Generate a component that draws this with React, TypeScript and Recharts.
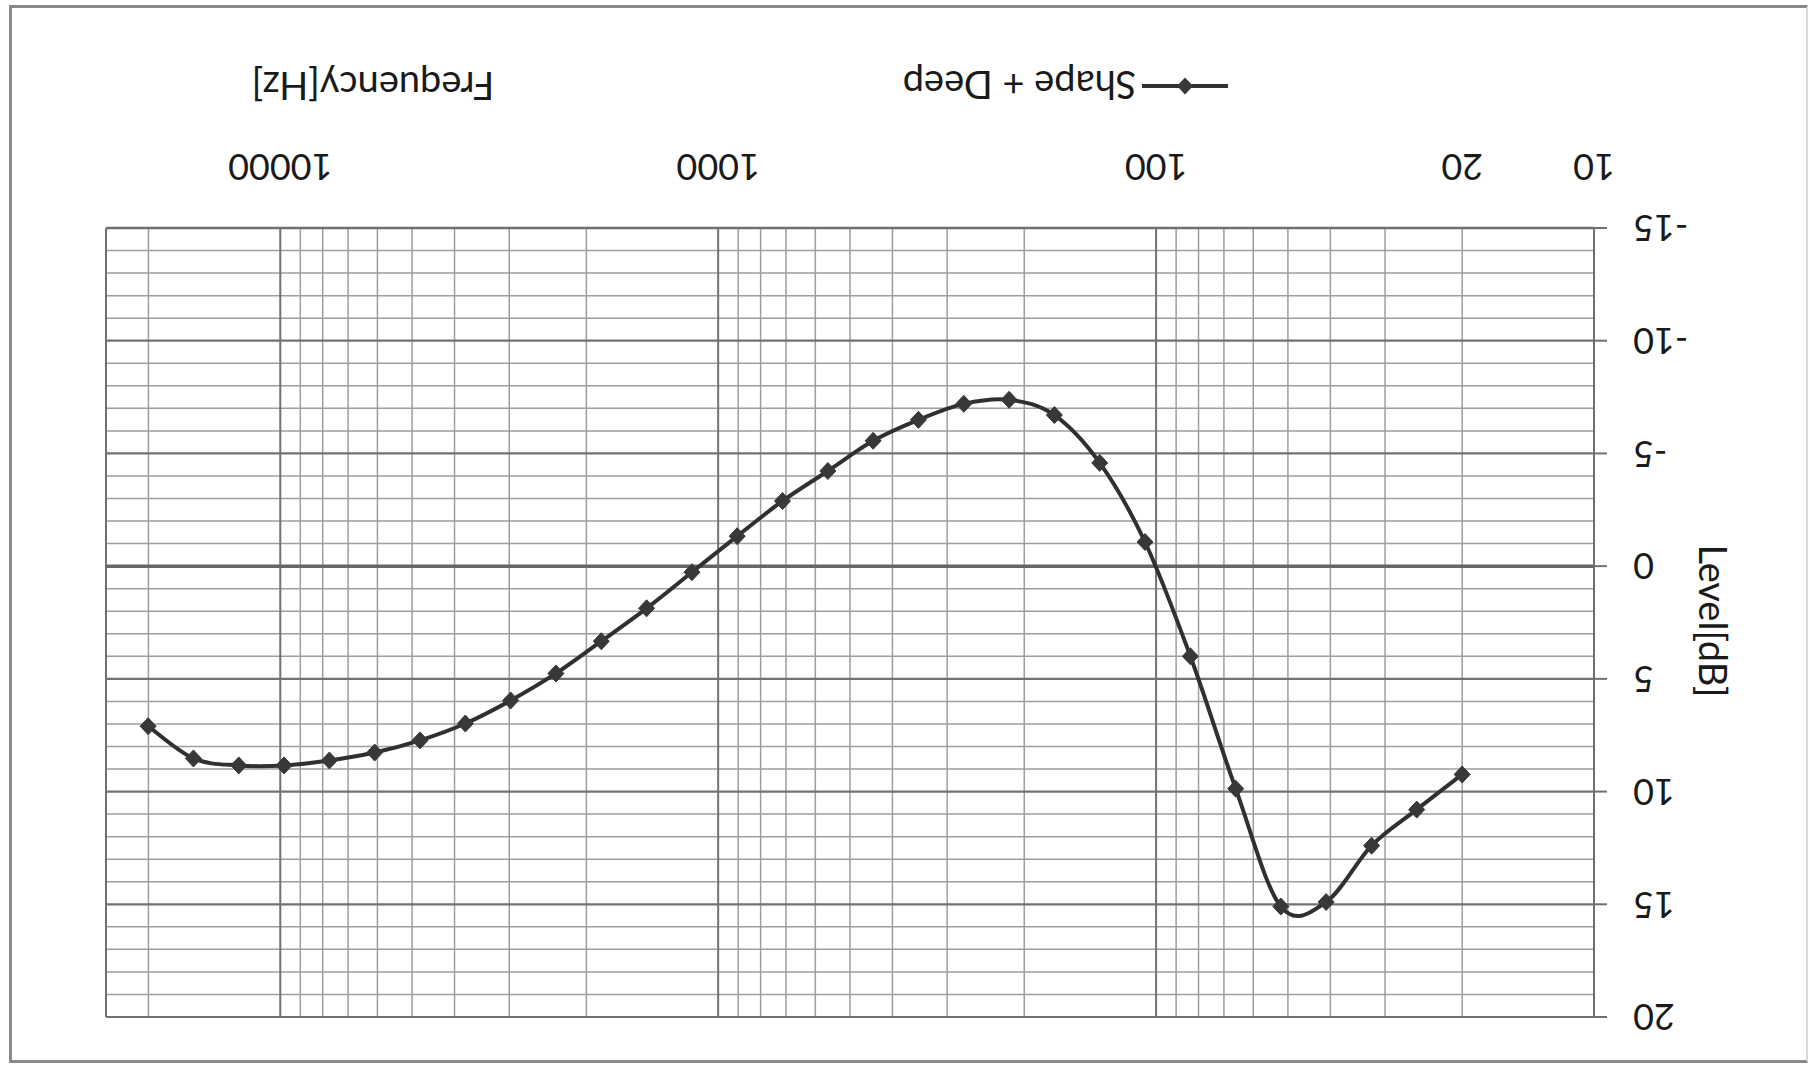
import React from 'react';
import { LineChart, Line, XAxis, YAxis, ReferenceLine, Legend } from 'recharts';

// Measured response of the "Shape + Deep" setting
const frequencies = [
  20, 25.4, 32.2, 40.9, 51.9, 65.8, 83.5, 106, 134.5, 170.7,
  216.6, 274.9, 348.9, 442.7, 561.8, 713, 904.8, 1148, 1457, 1849,
  2347, 2978, 3779, 4796, 6087, 7724, 9802, 12439, 15786, 20033,
];
const levels = [
  9.24, 10.8, 12.4, 14.9, 15.1, 9.87, 4.0, -1.07, -4.58, -6.7,
  -7.38, -7.2, -6.49, -5.56, -4.22, -2.89, -1.33, 0.27, 1.87, 3.33,
  4.76, 5.96, 6.98, 7.73, 8.27, 8.62, 8.84, 8.84, 8.53, 7.1,
];

// Axis ticks
const xTicks = [10, 20, 100, 1000, 10000];
const yTicks = [-15, -10, -5, 0, 5, 10, 15, 20];

// Log-paper grid
const minorFreqs = [
  20, 30, 40, 50, 60, 70, 80, 90,
  200, 300, 400, 500, 600, 700, 800, 900,
  2000, 3000, 4000, 5000, 6000, 7000, 8000, 9000,
  20000,
];
const majorFreqs = [100, 1000, 10000, 25000];
const minorLevels = [
  -14, -13, -12, -11, -9, -8, -7, -6, -4, -3, -2, -1,
  1, 2, 3, 4, 6, 7, 8, 9, 11, 12, 13, 14, 16, 17, 18, 19,
];
const majorLevels = [-10, -5, 5, 10, 15, 20];

const SERIES_NAME = 'Shape + Deep';
const rows = frequencies.map((freq, i) => ({ freq, level: levels[i] }));

// Smoothed line through every point (Catmull-Rom as cubic Béziers)
function smoothCurve(context: any) {
  let pts: number[][] = [];
  return {
    areaStart() {},
    areaEnd() {},
    lineStart() {
      pts = [];
    },
    lineEnd() {
      const n = pts.length;
      if (!n) return;
      context.moveTo(pts[0][0], pts[0][1]);
      for (let i = 0; i < n - 1; i++) {
        const p0 = pts[Math.max(0, i - 1)];
        const p1 = pts[i];
        const p2 = pts[i + 1];
        const p3 = pts[Math.min(n - 1, i + 2)];
        context.bezierCurveTo(
          p1[0] + (p2[0] - p0[0]) / 6,
          p1[1] + (p2[1] - p0[1]) / 6,
          p2[0] - (p3[0] - p1[0]) / 6,
          p2[1] - (p3[1] - p1[1]) / 6,
          p2[0],
          p2[1]
        );
      }
    },
    point(x: number, y: number) {
      pts.push([+x, +y]);
    },
  };
}

const INK = '#303030';
const TEXT = '#1a1a1a';
const FONT = 'Lato, "Open Sans", sans-serif';

const Diamond = (props: any) => {
  const { cx, cy, index } = props;
  if (cx == null || cy == null) return <g key={`dm-${index}`} />;
  return (
    <path
      key={`dm-${index}`}
      d={`M${cx},${cy - 8.5}L${cx + 8},${cy}L${cx},${cy + 8.5}L${cx - 8},${cy}Z`}
      fill="#383838"
      stroke="#383838"
      strokeWidth={1}
    />
  );
};

const LegendContent = () => (
  <div style={{ display: 'flex', alignItems: 'center', height: 40, fontFamily: FONT }}>
    <svg width={86} height={22}>
      <line x1={0} y1={11} x2={86} y2={11} stroke={INK} strokeWidth={4} />
      <path d="M43,2.5L51,11L43,19.5L35,11Z" fill="#383838" />
    </svg>
    <span style={{ marginLeft: 6, fontSize: 38, lineHeight: '40px', color: TEXT, whiteSpace: 'nowrap' }}>
      {SERIES_NAME}
    </span>
  </div>
);

export default function App() {
  return (
    <div
      style={{
        position: 'absolute',
        left: 0,
        top: 0,
        width: 1812,
        height: 1066,
        background: '#ffffff',
        transform: 'rotate(180deg)',
        fontFamily: FONT,
        overflow: 'hidden',
      }}
    >
      <div
        style={{
          position: 'absolute',
          left: 4,
          top: 3,
          width: 1799,
          height: 1058,
          borderTop: '3px solid #8a8a8a',
          borderRight: '3px solid #8a8a8a',
          borderBottom: '3px solid #8a8a8a',
          borderLeft: '2px solid #d8d8d8',
          boxSizing: 'border-box',
        }}
      />
      <LineChart
        width={1812}
        height={1066}
        data={rows}
        margin={{ top: 49, right: 106, bottom: 0, left: 0 }}
      >
        {minorLevels.map((v) => (
          <ReferenceLine key={`ml-${v}`} y={v} stroke="#9e9e9e" strokeWidth={1.5} />
        ))}
        {minorFreqs.map((f) => (
          <ReferenceLine key={`mf-${f}`} x={f} stroke="#9e9e9e" strokeWidth={1.5} />
        ))}
        {majorFreqs.map((f) => (
          <ReferenceLine key={`Mf-${f}`} x={f} stroke="#727272" strokeWidth={2} />
        ))}
        {majorLevels.map((v) => (
          <ReferenceLine key={`Ml-${v}`} y={v} stroke="#727272" strokeWidth={2.2} />
        ))}
        <ReferenceLine y={0} stroke="#666666" strokeWidth={3.5} />
        <XAxis
          dataKey="freq"
          type="number"
          scale="log"
          domain={[10, 25000]}
          ticks={xTicks}
          interval={0}
          allowDataOverflow
          height={228}
          tickLine={false}
          tickSize={0}
          tickMargin={48}
          axisLine={{ stroke: '#707070', strokeWidth: 2.5 }}
          tick={{ fontSize: 36, fill: TEXT }}
          label={{
            content: () => (
              <text x={1439} y={994} textAnchor="middle" fontSize={38} fill={TEXT} fontFamily={FONT}>
                Frequency[Hz]
              </text>
            ),
          }}
        />
        <YAxis
          type="number"
          domain={[-15, 20]}
          ticks={yTicks}
          interval={0}
          allowDataOverflow
          width={218}
          tickSize={13}
          tickMargin={26}
          tickLine={{ stroke: '#707070', strokeWidth: 2 }}
          axisLine={{ stroke: '#707070', strokeWidth: 2 }}
          tick={{ fontSize: 36, fill: TEXT }}
          label={{
            content: () => (
              <text
                x={113}
                y={445}
                transform="rotate(-90 113 445)"
                textAnchor="middle"
                fontSize={38}
                fill={TEXT}
                fontFamily={FONT}
              >
                Level[dB]
              </text>
            ),
          }}
        />
        <Legend
          layout="horizontal"
          verticalAlign="middle"
          align="center"
          content={LegendContent}
          wrapperStyle={{ left: 584, top: 960, width: 'auto', height: 40 }}
        />
        <Line
          dataKey="level"
          name={SERIES_NAME}
          type={smoothCurve as any}
          stroke={INK}
          strokeWidth={4}
          dot={Diamond}
          activeDot={false}
          isAnimationActive={false}
        />
      </LineChart>
    </div>
  );
}
